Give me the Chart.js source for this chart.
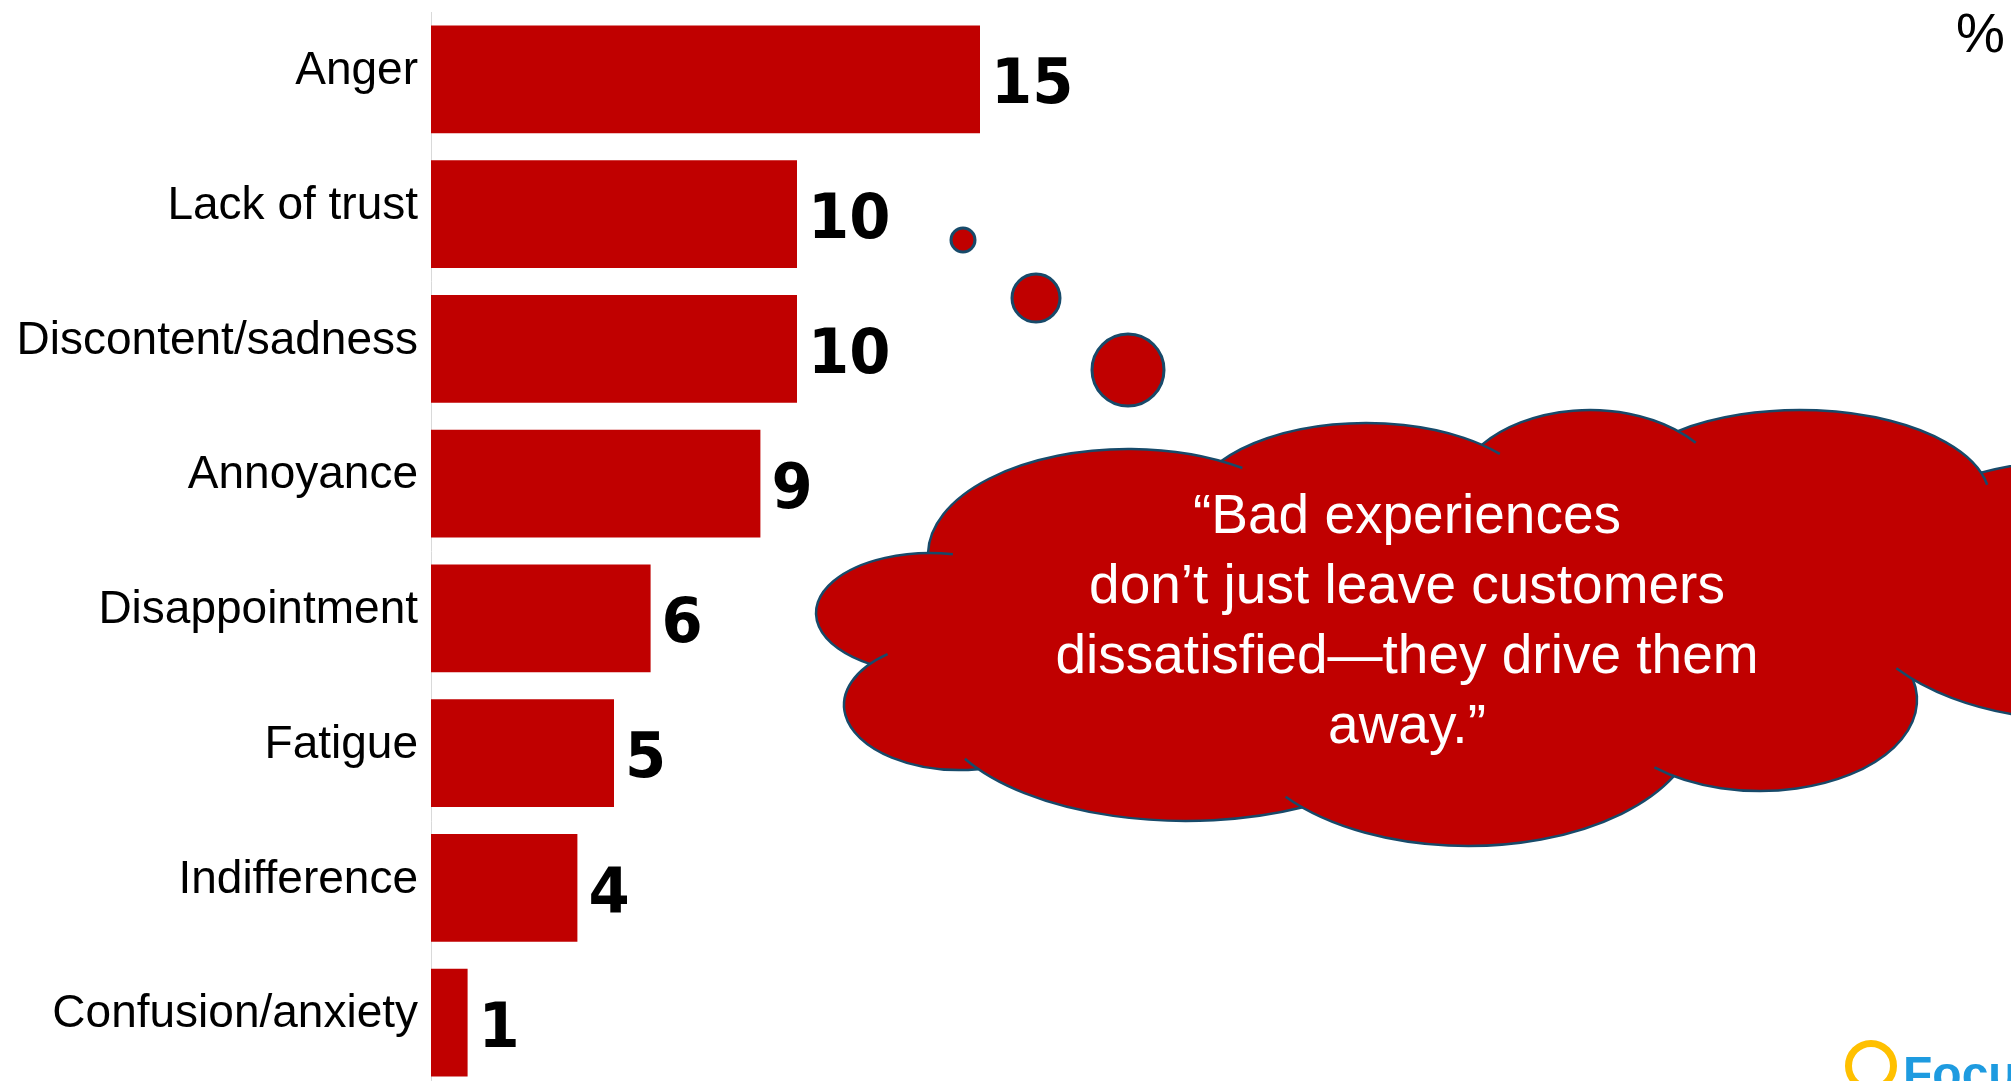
<!DOCTYPE html>
<html>
<head>
<meta charset="utf-8">
<script src="https://cdn.jsdelivr.net/npm/chart.js@4/dist/chart.umd.min.js"></script>
<style>
  html, body { margin: 0; padding: 0; background: #fff; overflow: hidden; }
  #wrap { width: 2011px; height: 1091px; }
</style>
</head>
<body>
<div id="wrap"><canvas id="emotions" width="2011" height="1091"></canvas></div>
<script>
const categories = ['Anger', 'Lack of trust', 'Discontent/sadness', 'Annoyance', 'Disappointment', 'Fatigue', 'Indifference', 'Confusion/anxiety'];
const shares = [15, 10, 10, 9, 6, 5, 4, 1];
const quoteLines = ['\u201CBad experiences', 'don\u2019t just leave customers', 'dissatisfied\u2014they drive them', 'away.\u201D'];
const unitLabel = '%';
const brandName = 'Focus';

const RED = '#C00000';
const EDGE = '#174a6a';

// numbers at the end of each bar
const valueLabels = {
  id: 'valueLabels',
  afterDatasetsDraw(chart) {
    const ctx = chart.ctx;
    const meta = chart.getDatasetMeta(0);
    ctx.save();
    ctx.fillStyle = '#000';
    ctx.font = 'bold 63px "DejaVu Sans"';
    ctx.textBaseline = 'alphabetic';
    meta.data.forEach((bar, i) => {
      ctx.save();
      ctx.translate(bar.x + 11, bar.y + 24);
      ctx.scale(0.94, 1);
      ctx.fillText(String(shares[i]), 0, 0);
      ctx.restore();
    });
    ctx.restore();
  }
};

// thought cloud: bulges are ellipses, outline drawn only where a bulge sticks out
const bulges = [
  [1128, 555, 200, 106],
  [1366, 510, 175, 87],
  [1590, 500, 137, 90],
  [1800, 500, 190, 90],
  [2080, 590, 230, 130],
  [1760, 700, 157, 91],
  [1468, 720, 230, 126],
  [1186, 700, 253, 121],
  [960, 705, 116, 65],
  [930, 613, 114, 60]
];
const core = [1420, 620, 470, 140];

function inside(e, x, y) {
  const dx = (x - e[0]) / e[2], dy = (y - e[1]) / e[3];
  return dx * dx + dy * dy < 0.995;
}

function drawCloud(ctx) {
  ctx.save();
  ctx.fillStyle = RED;
  [core, ...bulges].forEach(e => {
    ctx.beginPath();
    ctx.ellipse(e[0], e[1], e[2], e[3], 0, 0, Math.PI * 2);
    ctx.fill();
  });
  ctx.strokeStyle = EDGE;
  ctx.lineWidth = 2.5;
  const N = 720, ext = 0.16;
  bulges.forEach((e, i) => {
    const others = bulges.filter((_, j) => j !== i).concat([core]);
    const out = [];
    for (let k = 0; k < N; k++) {
      const t = k / N * Math.PI * 2;
      const x = e[0] + e[2] * Math.cos(t), y = e[1] + e[3] * Math.sin(t);
      out.push(!others.some(o => inside(o, x, y)));
    }
    // start walking from a hidden point so runs don't wrap
    let s0 = out.indexOf(false);
    if (s0 < 0) s0 = 0;
    let k = 0;
    while (k < N) {
      if (out[(s0 + k) % N]) {
        let len = 0;
        while (len < N && out[(s0 + k + len) % N]) len++;
        const a0 = (s0 + k) / N * Math.PI * 2;
        const a1 = (s0 + k + len) / N * Math.PI * 2 + ext * 150 / e[2];
        ctx.beginPath();
        ctx.ellipse(e[0], e[1], e[2], e[3], 0, a0, a1);
        ctx.stroke();
        k += len;
      } else {
        k++;
      }
    }
  });
  ctx.restore();
}

const decorations = {
  id: 'decorations',
  afterDraw(chart) {
    const ctx = chart.ctx;
    ctx.save();
    // small bubbles leading to the cloud
    [[963, 240, 12], [1036, 298, 24], [1128, 370, 36]].forEach(c => {
      ctx.beginPath();
      ctx.arc(c[0], c[1], c[2], 0, Math.PI * 2);
      ctx.fillStyle = RED;
      ctx.fill();
      ctx.lineWidth = 3;
      ctx.strokeStyle = EDGE;
      ctx.stroke();
    });
    drawCloud(ctx);

    ctx.fillStyle = '#fff';
    ctx.font = '55px "Liberation Sans", Arial, sans-serif';
    ctx.textAlign = 'center';
    ctx.textBaseline = 'alphabetic';
    quoteLines.forEach((line, i) => ctx.fillText(line, 1407, 533 + 70 * i));

    ctx.fillStyle = '#000';
    ctx.font = '55px "Liberation Sans", Arial, sans-serif';
    ctx.textAlign = 'right';
    ctx.fillText(unitLabel, 2005, 52);

    // logo in the corner
    ctx.beginPath();
    ctx.arc(1871, 1066, 22.5, 0, Math.PI * 2);
    ctx.lineWidth = 7;
    ctx.strokeStyle = '#FFC000';
    ctx.stroke();
    ctx.fillStyle = '#1e9be0';
    ctx.font = 'bold 48px "Liberation Sans", Arial, sans-serif';
    ctx.textAlign = 'left';
    ctx.fillText(brandName, 1903, 1090);
    ctx.restore();
  }
};

new Chart(document.getElementById('emotions'), {
  type: 'bar',
  data: {
    labels: categories,
    datasets: [{
      data: shares,
      backgroundColor: RED,
      borderWidth: 0,
      categoryPercentage: 1,
      barPercentage: 0.8
    }]
  },
  options: {
    indexAxis: 'y',
    responsive: false,
    animation: false,
    layout: { padding: { top: 12, right: 116, bottom: 1, left: 0 } },
    plugins: { legend: { display: false }, tooltip: { enabled: false } },
    scales: {
      x: { min: 0, max: 40, display: false },
      y: {
        grid: { display: false, drawTicks: false },
        border: { display: true, color: '#d9d9d9', width: 1 },
        ticks: {
          color: '#000',
          font: { family: '"Liberation Sans", Arial, sans-serif', size: 46 },
          padding: 13,
          labelOffset: -8
        },
        afterFit(scale) {
          scale.width = 431;
          scale.paddingTop = 0;
          scale.paddingBottom = 0;
        }
      }
    }
  },
  plugins: [valueLabels, decorations]
});
</script>
</body>
</html>
